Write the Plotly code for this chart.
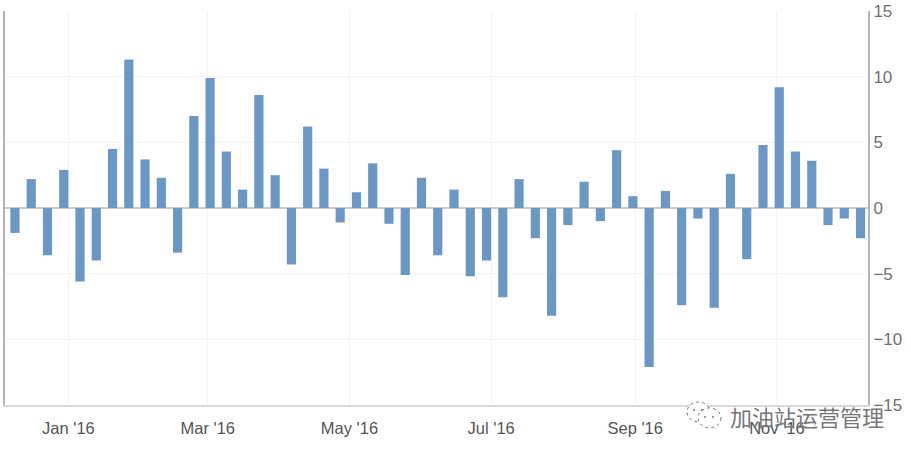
import plotly.graph_objects as go
import pandas as pd

start_date = "2015-12-09"
values = [-1.9, 2.2, -3.6, 2.9, -5.6, -4.0, 4.5, 11.3, 3.7, 2.3, -3.4, 7.0, 9.9, 4.3, 1.4, 8.6, 2.5, -4.3,
          6.2, 3.0, -1.1, 1.2, 3.4, -1.2, -5.1, 2.3, -3.6, 1.4, -5.2, -4.0, -6.8, 2.2, -2.3, -8.2, -1.3, 2.0,
          -1.0, 4.4, 0.9, -12.1, 1.3, -7.4, -0.8, -7.6, 2.6, -3.9, 4.8, 9.2, 4.3, 3.6, -1.3, -0.8, -2.3]
dates = pd.date_range(start_date, periods=len(values), freq="7D")
x_tickvals = ["2016-01-01", "2016-03-01", "2016-05-01", "2016-07-01", "2016-09-01", "2016-11-01"]
x_ticktext = ["Jan '16", "Mar '16", "May '16", "Jul '16", "Sep '16", "Nov '16"]
y_ticks = [-15, -10, -5, 0, 5, 10, 15]
watermark = "加油站运营管理"

W, H = 911, 455
L, R, T, B = 5, 868, 11, 405
DAY = 86400000
GRID = "#f2f2f2"
AXIS = "#b4b4b4"


def px(x):
    return (x - L) / (R - L)


def py(y):
    return (B - y) / (B - T)


def patch(x0, x1, y0, y1):
    return dict(type="rect", xref="paper", yref="paper", x0=px(x0), x1=px(x1), y0=py(y0), y1=py(y1),
                fillcolor="white", line_width=0, layer="between")


def bubble(x0, x1, y0, y1):
    return dict(type="circle", xref="paper", yref="paper", x0=px(x0), x1=px(x1), y0=py(y1), y1=py(y0),
                line=dict(color="#777", width=1, dash="dot"), fillcolor="white", layer="above")


def dot(x, y):
    return dict(type="circle", xref="paper", yref="paper", x0=px(x - 1), x1=px(x + 1), y0=py(y + 1), y1=py(y - 1),
                line_width=0, fillcolor="#777", layer="above")


fig = go.Figure(go.Bar(x=dates, y=values, width=3.95 * DAY, marker=dict(color="#6a97c4", line_width=0)))

shapes = [
    # white patches hiding the grid at the bottom of the plot, as in the source image
    patch(L + 1, 393, 326, 338),
    patch(20, 393, 338, 342),
    patch(L + 1, 393, 342, 403.5),
    # watermark mark
    bubble(687, 710, 402, 422), bubble(698, 721, 408, 428),
    dot(694, 410), dot(702, 410), dot(705, 417), dot(713, 417),
]

fig.update_layout(
    width=W, height=H, autosize=False,
    margin=dict(l=L, r=W - R, t=T, b=H - B),
    paper_bgcolor="white", plot_bgcolor="white",
    showlegend=False, shapes=shapes,
    font=dict(family="Liberation Sans, Arial, sans-serif", color="#606060"),
    annotations=[dict(text=watermark, xref="paper", yref="paper", x=px(728), y=py(416),
                      xanchor="left", yanchor="middle", showarrow=False,
                      font=dict(family="Noto Sans CJK SC", size=22, color="#777"))],
)
fig.update_xaxes(
    type="date", range=["2015-12-04 17:00", "2016-12-10 05:00"], automargin=False,
    tickmode="array", tickvals=x_tickvals, ticktext=x_ticktext,
    tickfont=dict(size=16.5, color="#555"), ticks="outside", ticklen=7, tickcolor="rgba(0,0,0,0)",
    showgrid=True, gridcolor=GRID, gridwidth=1,
    showline=True, linecolor="#d8d8d8", linewidth=2, zeroline=False,
)
fig.update_yaxes(
    range=[-15, 15], side="right", tickmode="array", tickvals=y_ticks, automargin=False,
    tickfont=dict(size=17, color="#707070"), ticks="",
    showgrid=True, gridcolor=GRID, gridwidth=1,
    zeroline=True, zerolinecolor="#cfc9c3", zerolinewidth=1.5,
    showline=True, linecolor=AXIS, linewidth=2, mirror=True,
)
fig.write_html("out.html", config={"displayModeBar": False}, post_script="document.body.style.margin='0';")
